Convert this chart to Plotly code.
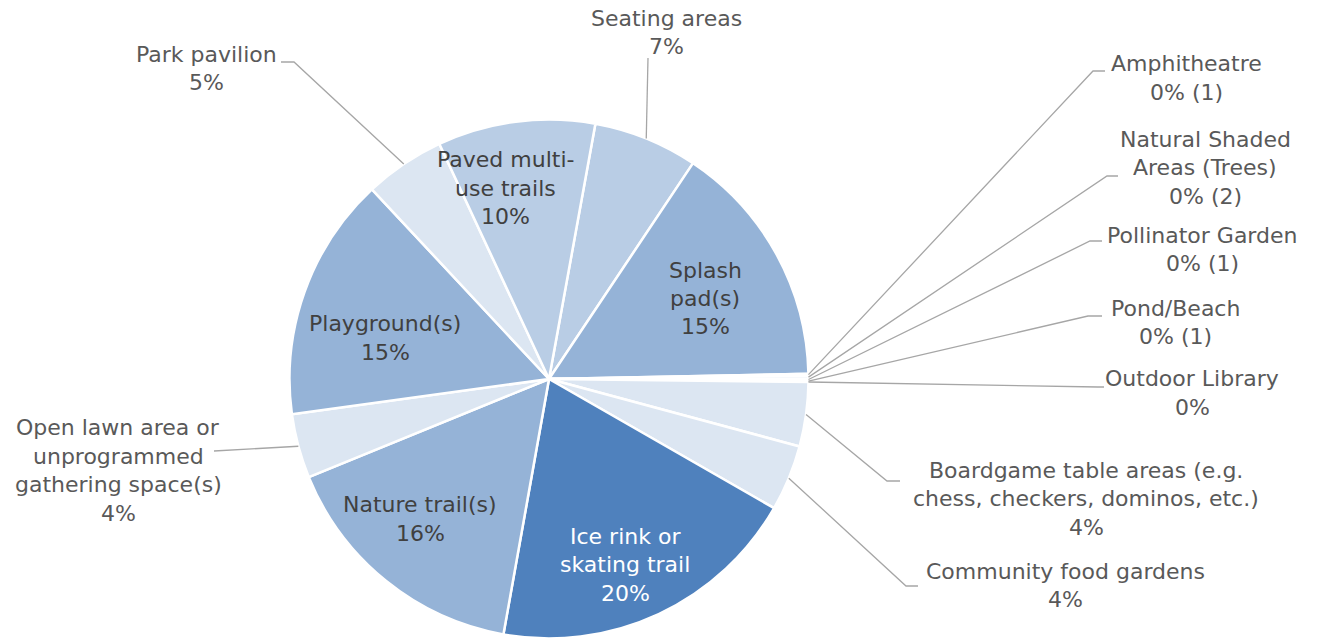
import math
import plotly.graph_objects as go

# ---------------- data ----------------
categories = ["Seating areas", "Splash pad(s)", "Amphitheatre", "Natural Shaded Areas (Trees)",
              "Pollinator Garden", "Pond/Beach", "Outdoor Library",
              "Boardgame table areas (e.g. chess, checkers, dominos, etc.)",
              "Community food gardens", "Ice rink or skating trail", "Nature trail(s)",
              "Open lawn area or unprogrammed gathering space(s)", "Playground(s)",
              "Park pavilion", "Paved multi-use trails"]
counts = [65, 153, 1, 2, 1, 1, 0, 40, 41, 195, 160, 40, 152, 50, 98]
display_names = ["Seating areas", "Splash<br>pad(s)", "Amphitheatre", "Natural Shaded<br>Areas (Trees)",
                 "Pollinator Garden", "Pond/Beach", "Outdoor Library",
                 "Boardgame table areas (e.g.<br>chess, checkers, dominos, etc.)",
                 "Community food gardens", "Ice rink or<br>skating trail", "Nature trail(s)",
                 "Open lawn area or<br>unprogrammed<br>gathering space(s)", "Playground(s)",
                 "Park pavilion", "Paved multi-<br>use trails"]

# ---------------- layout / style ----------------
W, H = 1319, 639
CX, CY, R = 549, 379, 259.5
ROTATION = 10.3
C_DARK, C_MED, C_LIGHT, C_PALE = "#4F81BD", "#95B3D7", "#B9CDE5", "#DCE6F2"
colors = [C_LIGHT, C_MED, C_PALE, C_PALE, C_PALE, C_PALE, C_PALE, C_PALE, C_PALE,
          C_DARK, C_MED, C_PALE, C_MED, C_PALE, C_LIGHT]
FONT = "DejaVu Sans"
FS = 22
LINE_H = 28.5
TXT_OUT = "#595959"
TXT_IN = "#404040"

# label centres (pixels), whether inside the pie, and leader line waypoints
label_pos = [(667, 32.5), (705, 298.5), (1186, 78), (1205, 167.5), (1202, 249.5),
             (1175, 322.5), (1192, 393), (1086, 498.5), (1065, 585.5), (625, 564.5),
             (420, 519), (118, 470.5), (385, 338), (206, 68.5), (505, 188)]
inside = [False, True, False, False, False, False, False, False, False, True,
          True, False, True, False, True]
leaders = {
    0: [(648, 58)],
    2: [(1093, 71), (1105, 71)],
    3: [(1107, 176), (1118, 176)],
    4: [(1090, 241), (1102, 241)],
    5: [(1088, 316), (1102, 316)],
    6: [(1098, 387), (1104, 387)],
    7: [(887, 481), (900, 481)],
    8: [(906, 586), (918, 586)],
    11: [(214, 451)],
    13: [(294, 62), (281, 62)],
}

def px2paper(x, y):
    return x / W, 1 - y / H

total = sum(counts)

def pct_label(c):
    p = c / total * 100
    return int(math.floor(p + 0.5))

fig = go.Figure()
fig.add_trace(go.Pie(
    labels=categories, values=counts, sort=False, direction="clockwise",
    rotation=ROTATION, textinfo="none", hoverinfo="label+percent",
    marker=dict(colors=colors, line=dict(color="white", width=2.5)),
    domain=dict(x=[(CX - R) / W, (CX + R) / W], y=[1 - (CY + R) / H, 1 - (CY - R) / H]),
    showlegend=False,
))

annotations = []
shapes = []
cum = 0
for i, (name, c) in enumerate(zip(display_names, counts)):
    mid = ROTATION + (cum + c / 2) / total * 360
    cum += c
    p = pct_label(c)
    pct_text = f"{p}%" + (f" ({c})" if p == 0 and c > 0 else "")
    lines = name.split("<br>") + [pct_text]
    lx, ly = label_pos[i]
    if i == 9:
        col = "white"
    elif inside[i]:
        col = TXT_IN
    else:
        col = TXT_OUT
    n = len(lines)
    for k, ln in enumerate(lines):
        yy = ly + (k - (n - 1) / 2) * LINE_H
        xp, yp = px2paper(lx, yy)
        annotations.append(dict(x=xp, y=yp, xref="paper", yref="paper", text=ln,
                                showarrow=False, xanchor="center", yanchor="middle",
                                font=dict(family=FONT, size=FS, color=col)))
    if i in leaders:
        a = math.radians(mid)
        sx, sy = CX + R * math.sin(a), CY - R * math.cos(a)
        pts = [(sx, sy)] + leaders[i]
        path = ""
        for j, (x, y) in enumerate(pts):
            xp, yp = px2paper(x, y)
            path += ("M" if j == 0 else " L") + f"{xp:.5f},{yp:.5f}"
        shapes.append(dict(type="path", path=path, xref="paper", yref="paper",
                           line=dict(color="#A6A6A6", width=1.3)))

fig.update_layout(
    width=W, height=H, margin=dict(l=0, r=0, t=0, b=0),
    paper_bgcolor="white", plot_bgcolor="white",
    annotations=annotations, shapes=shapes,
)
fig.write_html("out.html", config={"displayModeBar": False},
               post_script="document.body.style.margin='0px';")
